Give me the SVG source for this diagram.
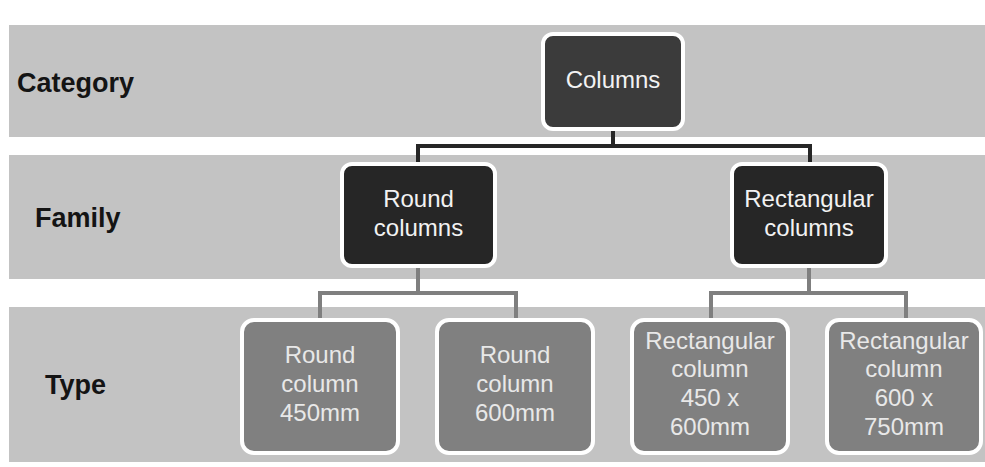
<svg xmlns="http://www.w3.org/2000/svg" width="985" height="467" viewBox="0 0 985 467">
<style>
.band{fill:#c3c3c3}
.lbl{font-family:"Liberation Sans",Arial,sans-serif;font-weight:bold;font-size:27px;fill:#141414}
.box{stroke:#ffffff;stroke-width:4}
.t{font-family:"Liberation Sans",Arial,sans-serif;font-size:24px;text-anchor:middle}
.cat{fill:#3b3b3b}
.fam{fill:#262626}
.typ{fill:#808080}
.tw{fill:#f2f2f2}
.tl{fill:#e8e8e8}
.c1{fill:none;stroke:#262626;stroke-width:4}
.c2{fill:none;stroke:#7f7f7f;stroke-width:4}
</style>
<rect width="985" height="467" fill="#ffffff"/>
<g id="bands">
<rect class="band" x="9" y="25" width="976" height="112"/>
<rect class="band" x="9" y="155" width="976" height="124"/>
<rect class="band" x="9" y="307" width="976" height="155"/>
</g>
<g id="labels">
<text class="lbl" x="17" y="92">Category</text>
<text class="lbl" x="35" y="227">Family</text>
<text class="lbl" x="45" y="394">Type</text>
</g>
<g id="connectors">
<path class="c1" d="M613 131 V146 M418 162 V146 H810 V162"/>
<path class="c2" d="M418 268 V293 M320 318 V293 H516 V318"/>
<path class="c2" d="M809 268 V293 M711 318 V293 H906 V318"/>
</g>
<g id="columns">
<rect class="box cat" x="543" y="34" width="140" height="95" rx="10"/>
<text class="t tw" x="613" y="88">Columns</text>
</g>
<g id="round-columns">
<rect class="box fam" x="342" y="164" width="153" height="102" rx="10"/>
<text class="t tw" x="418.5" y="207">Round</text>
<text class="t tw" x="418.5" y="236">columns</text>
</g>
<g id="rectangular-columns">
<rect class="box fam" x="732" y="164" width="154" height="102" rx="10"/>
<text class="t tw" x="809" y="207">Rectangular</text>
<text class="t tw" x="809" y="236">columns</text>
</g>
<g id="round-450">
<rect class="box typ" x="242" y="320" width="156" height="133" rx="12"/>
<text class="t tl" x="320" y="363">Round</text>
<text class="t tl" x="320" y="392">column</text>
<text class="t tl" x="320" y="421">450mm</text>
</g>
<g id="round-600">
<rect class="box typ" x="437" y="320" width="156" height="133" rx="12"/>
<text class="t tl" x="515" y="363">Round</text>
<text class="t tl" x="515" y="392">column</text>
<text class="t tl" x="515" y="421">600mm</text>
</g>
<g id="rect-450x600">
<rect class="box typ" x="632" y="320" width="156" height="133" rx="12"/>
<text class="t tl" x="710" y="349">Rectangular</text>
<text class="t tl" x="710" y="377">column</text>
<text class="t tl" x="710" y="406">450 x</text>
<text class="t tl" x="710" y="435">600mm</text>
</g>
<g id="rect-600x750">
<rect class="box typ" x="827" y="320" width="154" height="133" rx="12"/>
<text class="t tl" x="904" y="349">Rectangular</text>
<text class="t tl" x="904" y="377">column</text>
<text class="t tl" x="904" y="406">600 x</text>
<text class="t tl" x="904" y="435">750mm</text>
</g>
</svg>
